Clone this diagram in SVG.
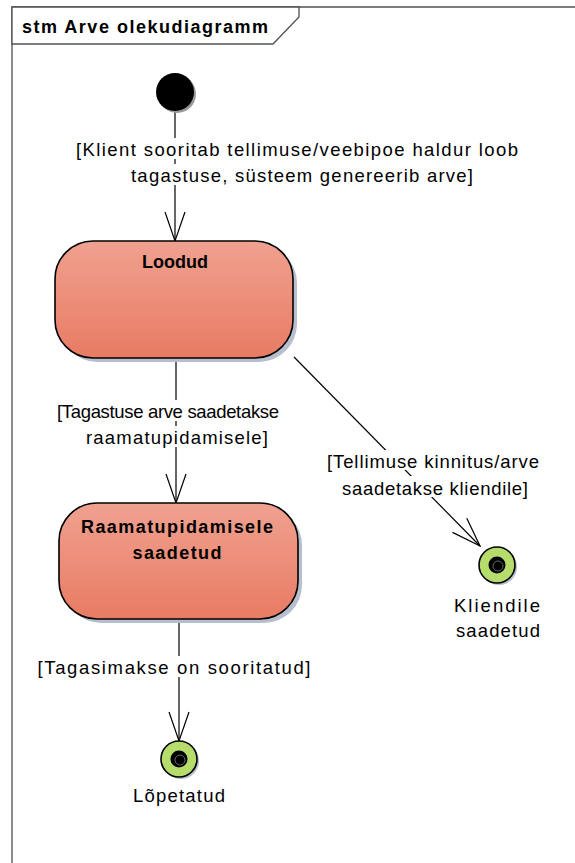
<svg xmlns="http://www.w3.org/2000/svg" width="575" height="863" viewBox="0 0 575 863">
  <style>
    .frame { fill: none; stroke: #505050; stroke-width: 1.3; }
    .tab { fill: #fff; stroke: #505050; stroke-width: 1.3; }
    .title { font-family: "Liberation Sans", Arial, sans-serif; font-size: 18px; font-weight: bold; fill: #000; }
    .state { fill: url(#stateFill); stroke: #000; stroke-width: 1.6; }
    .shadow { fill: #b7bece; }
    .sname { font-family: "Liberation Sans", Arial, sans-serif; font-size: 18px; font-weight: bold; fill: #000; text-anchor: middle; }
    .lbl { font-family: "Liberation Sans", Arial, sans-serif; font-size: 18.5px; fill: #000; text-anchor: middle; }
    .bg { fill: #fff; }
    .edge { fill: none; stroke: #000; stroke-width: 1.2; marker-end: url(#open); }
    .final { fill: #b6dd6c; stroke: #000; stroke-width: 1.6; }
  </style>
  <defs>
    <linearGradient id="stateFill" x1="0" y1="0" x2="0" y2="1">
      <stop offset="0" stop-color="#f0a190"/>
      <stop offset="1" stop-color="#e87b63"/>
    </linearGradient>
    <marker id="open" markerWidth="34" markerHeight="24" refX="30" refY="11" orient="auto" markerUnits="userSpaceOnUse">
      <path d="M1,1 L30,11 L1,21" fill="none" stroke="#000" stroke-width="1.2"/>
    </marker>
  </defs>

  <!-- diagram frame -->
  <g id="frame">
    <path class="frame" d="M12,863 L12,7 L575,7"/>
    <path class="tab" d="M12,7 L299,7 L299,17 L273,44 L12,44 Z"/>
    <text class="title" x="22" y="33" textLength="246" lengthAdjust="spacing">stm Arve olekudiagramm</text>
  </g>

  <!-- transitions -->
  <g id="connectors">
    <path class="edge" d="M175,111 L175,241"/>
    <path class="edge" d="M176,358 L176,503"/>
    <path class="edge" d="M179,619 L179,741"/>
    <path class="edge" d="M294,357 L480,546"/>

    <g id="label-start">
      <rect class="bg" x="76" y="138" width="442" height="21"/>
      <rect class="bg" x="130" y="164" width="344" height="21"/>
      <text class="lbl" x="297" y="156" textLength="442" lengthAdjust="spacing">[Klient sooritab tellimuse/veebipoe haldur loob</text>
      <text class="lbl" x="302" y="182" textLength="342" lengthAdjust="spacing">tagastuse, süsteem genereerib arve]</text>
    </g>
    <g id="label-accounting">
      <rect class="bg" x="57" y="400" width="223" height="21"/>
      <rect class="bg" x="84" y="426" width="186" height="21"/>
      <text class="lbl" x="168" y="418" textLength="222" lengthAdjust="spacing">[Tagastuse arve saadetakse</text>
      <text class="lbl" x="177" y="444" textLength="182" lengthAdjust="spacing">raamatupidamisele]</text>
    </g>
    <g id="label-customer">
      <rect class="bg" x="327" y="450" width="213" height="20"/>
      <rect class="bg" x="342" y="476" width="187" height="21"/>
      <text class="lbl" x="433" y="468" textLength="212" lengthAdjust="spacing">[Tellimuse kinnitus/arve</text>
      <text class="lbl" x="435" y="495" textLength="186" lengthAdjust="spacing">saadetakse kliendile]</text>
    </g>
    <g id="label-refund">
      <rect class="bg" x="37" y="656" width="274" height="21"/>
      <text class="lbl" x="174" y="674" textLength="273" lengthAdjust="spacing">[Tagasimakse on sooritatud]</text>
    </g>
  </g>

  <!-- initial pseudostate -->
  <g id="initial">
    <circle cx="177" cy="94" r="19" fill="#999"/>
    <circle cx="175" cy="92" r="19" fill="#000"/>
  </g>

  <!-- state: Loodud -->
  <g id="state-loodud">
    <rect class="shadow" x="59" y="245" width="238" height="117" rx="38"/>
    <rect class="state" x="55" y="241" width="238" height="117" rx="38"/>
    <text class="sname" x="175" y="268">Loodud</text>
  </g>

  <!-- state: Raamatupidamisele saadetud -->
  <g id="state-raamatupidamisele">
    <rect class="shadow" x="63" y="507" width="239" height="116" rx="38"/>
    <rect class="state" x="59" y="503" width="239" height="116" rx="38"/>
    <text class="sname" x="177" y="533" textLength="192" lengthAdjust="spacing">Raamatupidamisele</text>
    <text class="sname" x="177" y="559" textLength="89" lengthAdjust="spacing">saadetud</text>
  </g>

  <!-- final state: Kliendile saadetud -->
  <g id="final-kliendile">
    <circle cx="499" cy="567" r="18" fill="#b7bece"/>
    <circle class="final" cx="497" cy="565" r="18"/>
    <circle cx="497" cy="565" r="8.5" fill="#000"/>
    <circle cx="498" cy="566" r="5" fill="none" stroke="#666" stroke-width="1"/>
    <text class="lbl" x="497" y="612" textLength="86" lengthAdjust="spacing">Kliendile</text>
    <text class="lbl" x="498" y="637" textLength="84" lengthAdjust="spacing">saadetud</text>
  </g>

  <!-- final state: Lõpetatud -->
  <g id="final-lopetatud">
    <circle cx="181" cy="761" r="18" fill="#b7bece"/>
    <circle class="final" cx="179" cy="759" r="18"/>
    <circle cx="179" cy="759" r="8.5" fill="#000"/>
    <circle cx="180" cy="760" r="5" fill="none" stroke="#666" stroke-width="1"/>
    <text class="lbl" x="179" y="802" textLength="92" lengthAdjust="spacing">Lõpetatud</text>
  </g>
</svg>
